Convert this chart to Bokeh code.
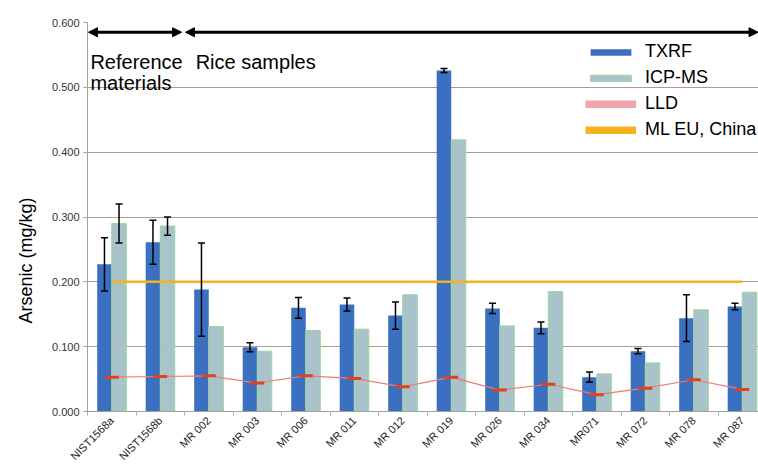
from bokeh.plotting import figure
from bokeh.models import (ColumnDataSource, Whisker, TeeHead, Legend, LegendItem, Label, Title,
                          Arrow, NormalHead, FixedTicker, PrintfTickFormatter, Range1d)
from bokeh.embed import file_html
from bokeh.resources import INLINE

# ---- data ----
samples = ["NIST1568a", "NIST1568b", "MR 002", "MR 003", "MR 006", "MR 011", "MR 012",
           "MR 019", "MR 026", "MR 034", "MR071", "MR 072", "MR 078", "MR 087"]
txrf = [0.227, 0.261, 0.188, 0.099, 0.160, 0.165, 0.148, 0.526, 0.159, 0.129, 0.053, 0.093, 0.144, 0.162]
txrf_err = [0.041, 0.034, 0.072, 0.007, 0.016, 0.010, 0.021, 0.003, 0.008, 0.009, 0.008, 0.004, 0.036, 0.005]
icpms = [0.290, 0.286, 0.131, 0.093, 0.125, 0.127, 0.180, 0.419, 0.132, 0.185, 0.058, 0.075, 0.157, 0.184]
icpms_err = [0.030, 0.014, 0, 0, 0, 0, 0, 0, 0, 0, 0, 0, 0, 0]
lld = [0.053, 0.054, 0.055, 0.044, 0.055, 0.051, 0.038, 0.053, 0.033, 0.042, 0.026, 0.036, 0.049, 0.034]
ml_eu_china = 0.200
y_ticks = [0.0, 0.1, 0.2, 0.3, 0.4, 0.5, 0.6]
n_reference = 2  # first two categories are reference materials

FONT = "Liberation Sans"
C_TXRF = "#3b6fc0"
C_ICP = "#a9c3cb"
C_LLD_LINE = "#f07a7a"
C_LLD_MARK = "#e5401c"
C_ML = "#f6b21e"

n = len(samples)
idx = list(range(n))
off = 0.15
bw = 0.3
NAN = float("nan")

src = ColumnDataSource(dict(
    xt=[i - off for i in idx], xi=[i + off for i in idx], xc=idx,
    txrf=txrf, icp=icpms, lld=lld,
    t_up=[v + e for v, e in zip(txrf, txrf_err)], t_lo=[v - e for v, e in zip(txrf, txrf_err)],
    ml=[ml_eu_china] * n,
))
icp_idx = [i for i in idx if icpms_err[i] > 0]
src_icp_err = ColumnDataSource(dict(
    x=[i + off for i in icp_idx],
    up=[icpms[i] + icpms_err[i] for i in icp_idx],
    lo=[icpms[i] - icpms_err[i] for i in icp_idx],
))

W, H = 758, 469
LEFT, TOP, BOTTOM = 87, 22, 56
frame_w = W - LEFT
cat_px = 48.5
x_end = -0.5 + frame_w / cat_px

p = figure(width=W, height=H, output_backend="svg", toolbar_location=None,
           x_range=Range1d(-0.5, x_end), y_range=Range1d(0, 0.6),
           min_border_left=LEFT, min_border_right=0, min_border_top=TOP, min_border_bottom=BOTTOM)
p.outline_line_color = None
p.background_fill_color = "white"
p.border_fill_color = "white"

# grid
p.xgrid.grid_line_color = None
p.ygrid.grid_line_color = "#b09a96"
p.ygrid.grid_line_width = 1

# axes
p.yaxis.ticker = FixedTicker(ticks=y_ticks)
p.yaxis.formatter = PrintfTickFormatter(format="%.3f")
p.yaxis.axis_line_color = "#a0a0a0"
p.yaxis.major_tick_line_color = "#a0a0a0"
p.yaxis.major_tick_out = 4
p.yaxis.major_tick_in = 0
p.yaxis.minor_tick_line_color = None
p.yaxis.major_label_text_font = FONT
p.yaxis.major_label_text_font_size = "11px"
p.yaxis.major_label_text_color = "#333333"
p.yaxis.major_label_standoff = 4

p.xaxis.ticker = FixedTicker(ticks=idx, minor_ticks=[i - 0.5 for i in idx] + [n - 0.5])
p.xaxis.major_label_overrides = {i: s for i, s in enumerate(samples)}
p.xaxis.major_label_orientation = 0.785
p.xaxis.major_label_text_font = FONT
p.xaxis.major_label_text_font_size = "11px"
p.xaxis.major_label_text_color = "#222222"
p.xaxis.major_label_standoff = 3
p.xaxis.major_tick_line_color = None
p.xaxis.major_tick_out = 0
p.xaxis.major_tick_in = 0
p.xaxis.minor_tick_line_color = "#b0b0b0"
p.xaxis.minor_tick_out = 4
p.xaxis.minor_tick_in = 0
p.xaxis.axis_line_color = "#a0a0a0"

# bars
r_txrf = p.vbar(x="xt", top="txrf", width=bw, source=src, fill_color=C_TXRF, line_color=None)
r_icp = p.vbar(x="xi", top="icp", width=bw, source=src, fill_color=C_ICP,
               line_color="#9ed69a", line_width=1)

# error bars (drawn above the bars)
for s, b in ((src, "xt"), (src_icp_err, "x")):
    up, lo = ("t_up", "t_lo") if s is src else ("up", "lo")
    p.add_layout(Whisker(base=b, upper=up, lower=lo, source=s, dimension="height",
                         line_color="black", line_width=1.5, level="annotation",
                         upper_head=TeeHead(size=7, line_color="black", line_width=1.5),
                         lower_head=TeeHead(size=7, line_color="black", line_width=1.5)))

# LLD
p.line(x="xc", y="lld", source=src, line_color=C_LLD_LINE, line_width=1.2)
p.scatter(x="xc", y="lld", source=src, marker="dash", size=14, line_color=C_LLD_MARK, line_width=3)

# ML EU, China
p.line(x="xc", y="ml", source=src, line_color=C_ML, line_width=2.5)

# legend dummies (not visible in plot area)
d_lld = p.line(x=[NAN, NAN], y=[NAN, NAN], line_color="#f3a3ad", line_width=8)
d_ml = p.line(x=[NAN, NAN], y=[NAN, NAN], line_color=C_ML, line_width=8)

legend = Legend(items=[
    LegendItem(label="TXRF", renderers=[r_txrf]),
    LegendItem(label="ICP-MS", renderers=[r_icp]),
    LegendItem(label="LLD", renderers=[d_lld]),
    LegendItem(label="ML EU, China", renderers=[d_ml]),
], location=(498, 271))
legend.padding = 0
legend.margin = 0
legend.border_line_color = None
legend.background_fill_alpha = 0
legend.glyph_width = 51
legend.glyph_height = 8
legend.label_height = 20
legend.label_standoff = 9
legend.spacing = 5
legend.label_text_font = FONT
legend.label_text_font_size = "18px"
legend.label_text_color = "black"
p.add_layout(legend)

# section arrows and texts
yA = 0.585
gap = 0.04
head = dict(size=9, fill_color="black", line_color="black")
p.add_layout(Arrow(x_start=-0.5 + gap / 2, y_start=yA, x_end=n_reference - 0.5 - gap * 1.5, y_end=yA,
                   line_width=3, line_color="black",
                   start=NormalHead(**head), end=NormalHead(**head)))
p.add_layout(Arrow(x_start=n_reference - 0.5 + gap * 0.5, y_start=yA, x_end=x_end - 0.01, y_end=yA,
                   line_width=3, line_color="black",
                   start=NormalHead(**head), end=NormalHead(**head)))

txt = dict(text_font=FONT, text_font_size="20px", text_color="black", text_baseline="alphabetic")
p.add_layout(Label(x=-0.44, y=0.539, text="Reference", **txt))
p.add_layout(Label(x=-0.44, y=0.506, text="materials", **txt))
p.add_layout(Label(x=1.73, y=0.539, text="Rice samples", **txt))

# y axis title (as a left-side title so it can sit below the frame centre)
p.add_layout(Title(text="Arsenic (mg/kg)", align="left", offset=88, standoff=26,
                   text_font=FONT, text_font_size="18px", text_font_style="normal",
                   text_color="black"), "left")

open("out.html", "w").write(file_html(p, INLINE))
